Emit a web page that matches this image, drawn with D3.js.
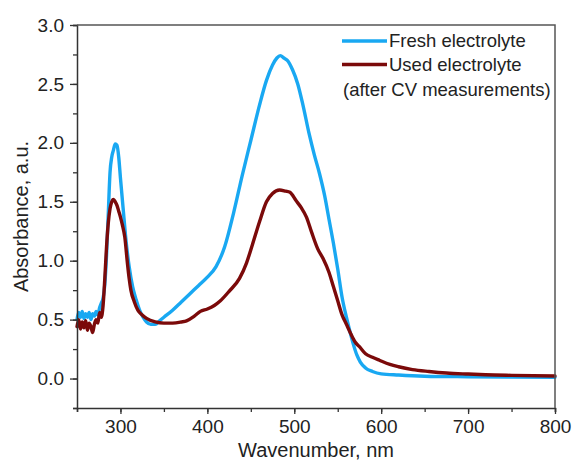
<!DOCTYPE html>
<html>
<head>
<meta charset="utf-8">
<script src="https://cdn.jsdelivr.net/npm/d3@7"></script>
<style>
  body { margin: 0; background: #fff; }
  svg { display: block; font-family: "Liberation Sans", Arial, sans-serif; }
</style>
</head>
<body>
<svg id="chart"></svg>
<script>
// wavelength grid and absorbance
var freshX = [250,252,254,256,258,260,262,264,266,268,270,272,274,276,278,280,282,284,286,288,290,292,294,296,298,300,303,306,310,314,318,322,326,330,335,340,345,350,360,370,380,390,400,410,420,430,440,450,460,468,475,480,484,488,492,498,504,510,517,523,529,535,540,545,550,555,560,564,568,572,576,582,590,600,620,650,700,750,800];
var freshY = [0.50,0.56,0.52,0.57,0.51,0.55,0.52,0.56,0.50,0.55,0.53,0.57,0.54,0.60,0.64,0.68,0.80,1.05,1.40,1.75,1.88,1.94,1.99,1.98,1.88,1.70,1.45,1.20,0.95,0.78,0.67,0.58,0.52,0.48,0.46,0.46,0.49,0.52,0.58,0.65,0.72,0.79,0.86,0.95,1.12,1.40,1.72,2.02,2.32,2.53,2.66,2.72,2.74,2.72,2.70,2.62,2.50,2.32,2.08,1.90,1.74,1.55,1.35,1.15,0.93,0.69,0.52,0.40,0.29,0.20,0.14,0.09,0.06,0.04,0.03,0.02,0.015,0.012,0.01];

var usedX = [250,252,254,256,258,260,262,264,266,268,270,272,274,276,278,280,282,284,286,288,290,292,294,296,298,300,302,305,308,310,312,316,320,325,330,340,350,360,370,376,385,392,400,408,415,425,437,445,452,460,468,475,483,490,495,502,508,514,520,527,533,540,545,550,555,560,565,570,575,582,590,598,610,620,636,655,675,700,720,750,800];
var usedY = [0.44,0.50,0.42,0.48,0.43,0.49,0.41,0.47,0.44,0.39,0.46,0.50,0.47,0.56,0.52,0.62,0.85,1.12,1.32,1.44,1.50,1.52,1.50,1.47,1.42,1.37,1.31,1.20,0.98,0.85,0.75,0.65,0.58,0.54,0.51,0.48,0.47,0.47,0.48,0.49,0.53,0.57,0.59,0.62,0.66,0.74,0.85,0.98,1.14,1.33,1.50,1.57,1.60,1.59,1.58,1.51,1.45,1.37,1.24,1.10,1.02,0.90,0.78,0.66,0.54,0.46,0.38,0.31,0.27,0.21,0.18,0.155,0.12,0.10,0.076,0.06,0.047,0.038,0.032,0.027,0.022];

var xTicks = [300, 400, 500, 600, 700, 800];
var yTicks = [0.0, 0.5, 1.0, 1.5, 2.0, 2.5, 3.0];
var seriesNames = ["Fresh electrolyte", "Used electrolyte"];
var seriesColors = ["#19a8f2", "#7b0a0a"];

var width = 574, height = 462;
var margin = { top: 25, right: 19, bottom: 54, left: 77 };
var w = width - margin.left - margin.right,
    h = height - margin.top - margin.bottom;

var svg = d3.select("#chart").attr("width", width).attr("height", height);
var g = svg.append("g").attr("transform", "translate(" + margin.left + "," + margin.top + ")");

var x = d3.scaleLinear().domain([250, 800]).range([0, w]);
var y = d3.scaleLinear().domain([-0.25, 3.0]).range([h, 0]);

var line = d3.line()
  .x(function(d) { return x(d[0]); })
  .y(function(d) { return y(d[1]); })
  .curve(d3.curveMonotoneX);

var series = [d3.zip(freshX, freshY), d3.zip(usedX, usedY)];

g.selectAll(".series")
  .data(series)
  .enter().append("path")
  .attr("class", "series")
  .attr("d", line)
  .attr("fill", "none")
  .attr("stroke", function(d, i) { return seriesColors[i]; })
  .attr("stroke-width", 3.4)
  .attr("stroke-linejoin", "round")
  .attr("stroke-linecap", "round");

// minor ticks
var xMinor = d3.range(250, 801, 50);
var yMinor = d3.range(-0.25, 3.01, 0.25);

g.append("g")
  .attr("transform", "translate(0," + h + ")")
  .call(d3.axisBottom(x).tickValues(xMinor).tickSize(4).tickFormat(""));
g.append("g")
  .attr("transform", "translate(0," + h + ")")
  .call(d3.axisBottom(x).tickValues(xTicks).tickSize(6).tickPadding(6).tickFormat(d3.format("d")))
  .call(function(a) { a.select(".domain").remove(); });

g.append("g")
  .call(d3.axisLeft(y).tickValues(yMinor).tickSize(4).tickFormat(""));
g.append("g")
  .call(d3.axisLeft(y).tickValues(yTicks).tickSize(7).tickPadding(6).tickFormat(d3.format(".1f")))
  .call(function(a) { a.select(".domain").remove(); });

g.selectAll(".tick line").attr("stroke", "#333").attr("stroke-width", 1.3);
g.selectAll(".domain").attr("stroke", "#333").attr("stroke-width", 1.5);
g.selectAll(".tick text").attr("font-size", 19).attr("fill", "#222");

// top and right frame
g.append("path")
  .attr("d", "M0,0H" + w + "V" + h)
  .attr("fill", "none")
  .attr("stroke", "#555")
  .attr("stroke-width", 1.5);

// axis titles
svg.append("text")
  .attr("x", margin.left + w / 2)
  .attr("y", 457)
  .attr("text-anchor", "middle")
  .attr("font-size", 20)
  .attr("fill", "#222")
  .text("Wavenumber, nm");

svg.append("text")
  .attr("transform", "translate(28," + (margin.top + h / 2) + ") rotate(-90)")
  .attr("text-anchor", "middle")
  .attr("font-size", 20)
  .attr("fill", "#222")
  .text("Absorbance, a.u.");

// legend
var legend = svg.append("g").attr("transform", "translate(342,41)");
seriesNames.forEach(function(name, i) {
  legend.append("line")
    .attr("x1", 0).attr("x2", 45)
    .attr("y1", i * 23.5).attr("y2", i * 23.5)
    .attr("stroke", seriesColors[i])
    .attr("stroke-width", 3.4);
  legend.append("text")
    .attr("x", 47).attr("y", i * 23.5)
    .attr("dy", "0.35em")
    .attr("font-size", 18.5)
    .attr("fill", "#222")
    .text(name);
});
legend.append("text")
  .attr("x", 1).attr("y", 49)
  .attr("dy", "0.35em")
  .attr("font-size", 18.5)
  .attr("fill", "#222")
  .text("(after CV measurements)");
</script>
</body>
</html>
